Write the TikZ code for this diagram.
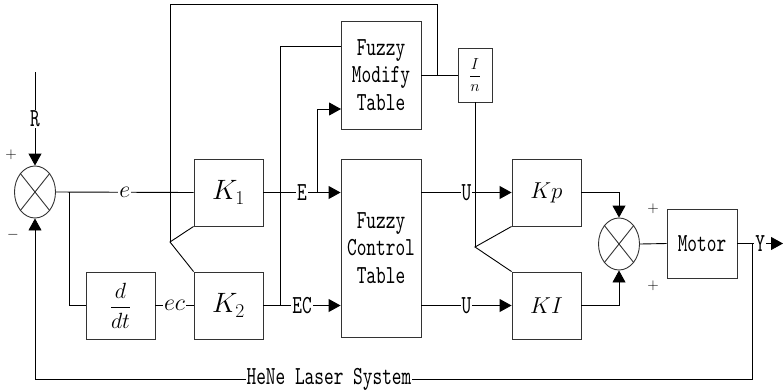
\RequirePackage{fix-cm}
\documentclass[tikz,border=0pt]{standalone}
\usepackage{amsmath}
\usepackage{fontspec}
\usepackage{tikz}
\usetikzlibrary{arrows.meta, shapes.geometric, positioning}
\newfontfamily\blockfont{lmmono10-regular}[Extension=.otf, FakeStretch=0.71]

\begin{document}
\begin{tikzpicture}[x=1pt, y=-1pt, >={Triangle[length=12pt, width=13pt]}, line width=0.9pt,
    blk/.style={draw=black!80, rectangle, inner sep=0pt, minimum width=69pt, minimum height=67pt},
    sumnode/.style={draw=black!80, ellipse, inner sep=0pt, minimum width=41pt, minimum height=52pt},
    tag/.style={fill=white, inner sep=1pt, font=\blockfont\fontsize{26}{27}\selectfont},
    mathtag/.style={fill=white, inner sep=1pt, font=\fontsize{24}{24}\selectfont},
    sign/.style={inner sep=0pt, font=\fontsize{15}{15}\selectfont}]
    \useasboundingbox (0,0) rectangle (783,389);

    % Hai bo cong va cac khoi
    \node[sumnode] (s1) at (35,192) {};
    \node[sumnode] (s2) at (619,244) {};
    \node[blk] (k1) at (228.5,192.5) {\fontsize{28}{28}\selectfont $K_1$};
    \node[blk] (k2) at (228.5,305.5) {\fontsize{28}{28}\selectfont $K_2$};
    \node[blk] (ddt) at (120.5,305.5) {\fontsize{22}{22}\selectfont $\dfrac{d}{dt}$};
    \node[blk, minimum width=80pt, minimum height=108pt, align=center,
        font=\blockfont\fontsize{26}{27.5}\selectfont] (fm) at (381,75) {Fuzzy\\Modify\\Table};
    \node[blk, minimum width=80pt, minimum height=178pt, align=center,
        font=\blockfont\fontsize{26}{27.5}\selectfont] (fc) at (381,248) {Fuzzy\\Control\\Table};
    \node[blk, minimum width=34pt, minimum height=54pt] (gain) at (475,75) {\fontsize{16}{16}\selectfont $\dfrac{I}{n}$};
    \node[blk] (kp) at (546.5,192.5) {\fontsize{23}{23}\selectfont $Kp$};
    \node[blk] (ki) at (546.5,305.5) {\fontsize{23}{23}\selectfont $KI$};
    \node[blk, minimum width=70pt, minimum height=69pt, font=\blockfont\fontsize{26}{27}\selectfont] (motor) at (702,243.5) {Motor};

    % Dau X trong bo cong
    \foreach \s in {s1, s2} {
        \draw[black!80] (\s.north west) -- (\s.south east);
        \draw[black!80] (\s.north east) -- (\s.south west);
    }

    % Dau cong, tru
    \node[sign] (p1) at (11,155) {$+$};
    \node[sign] (m1) at (13,235) {$-$};
    \node[sign] (p2) at (653,209) {$+$};
    \node[sign] (p3) at (653,286) {$+$};

    % Cac diem re nhanh
    \coordinate (rtop) at (35,72);
    \coordinate (b1) at (69,192);
    \coordinate (fk1) at (170,242);
    \coordinate (top1) at (170,4);
    \coordinate (tap1) at (437,75);
    \coordinate (b2) at (317,192.5);
    \coordinate (fmin) at (341,109);
    \coordinate (b3) at (280,305.5);
    \coordinate (fmtop) at (341,46);
    \coordinate (fk2) at (475,247);
    \coordinate (yend) at (783,243.5);
    \coordinate (b4) at (752,243.5);
    \coordinate (low1) at (752,379);
    \coordinate (low2) at (35,379);

    % Tin hieu vao va sai lech
    \draw[->] (rtop) -- node[tag] {R} (s1.north);
    \draw (s1.east) -- node[mathtag] {$e$} (k1.west);
    \draw (b1) |- (ddt.west);
    \draw (ddt.east) -- node[mathtag] {$ec$} (k2.west);

    % Vong tren qua bang hieu chinh
    \draw (k1.south west) -- (fk1) -- (k2.north west);
    \draw (fk1) -- (top1) -| (tap1);
    \draw (fm.east) -- (gain.west);
    \draw (gain.south) -- (fk2);
    \draw (kp.south west) -- (fk2) -- (ki.north west);

    % E, EC vao bang dieu khien
    \draw[->] (k1.east) -- node[tag] {E} (k1.east -| fc.west);
    \draw[->] (b2) |- (fmin);
    \draw[->] (k2.east) -- node[tag] {EC} (k2.east -| fc.west);
    \draw (b3) |- (fmtop);

    % U ra Kp, KI
    \draw[->] (kp.west -| fc.east) -- node[tag] {U} (kp.west);
    \draw[->] (ki.west -| fc.east) -- node[tag] {U} (ki.west);
    \draw[->] (kp.east) -| (s2.north);
    \draw[->] (ki.east) -| (s2.south);

    % Dong co va hoi tiep
    \draw (s2.east) -- (motor.west);
    \draw[->] (motor.east) -- node[tag] {Y} (yend);
    \draw[->] (b4) -- (low1) -- node[tag, pos=0.59] {HeNe Laser System} (low2) -- (s1.south);
\end{tikzpicture}
\end{document}
